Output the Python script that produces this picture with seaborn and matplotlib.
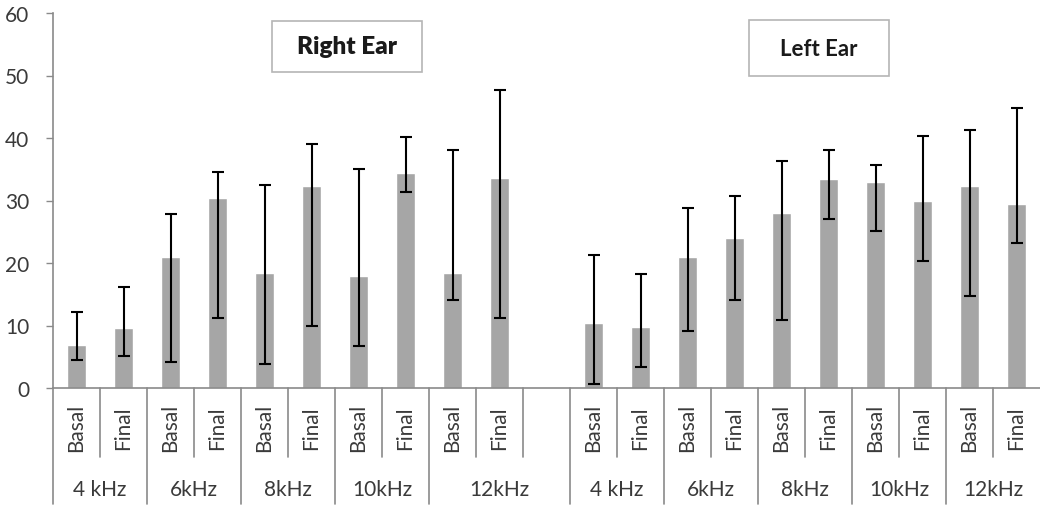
import matplotlib
matplotlib.use("Agg")
import matplotlib.pyplot as plt
from matplotlib.patches import Rectangle
import seaborn as sns
import pandas as pd
import numpy as np

# ---------------- data ----------------
ears = ["Right Ear", "Left Ear"]
freqs_right = ["4 kHz", "6kHz", "8kHz", "10kHz", "12kHz"]
freqs_left = ["4 kHz", "6kHz", "8kHz", "10kHz", "12kHz"]
conditions = ["Basal", "Final"]

# means (Basal, Final per frequency)
right_means = [6.9, 9.55, 21.0, 30.35, 18.35, 32.4, 18.0, 34.4, 18.35, 33.55]
left_means = [10.4, 9.8, 21.0, 23.95, 28.0, 33.5, 32.9, 30.0, 32.3, 29.4]
# error bar ends
right_upper = [12.1, 16.2, 27.8, 34.6, 32.5, 39.0, 35.1, 40.1, 38.1, 47.7]
right_lower = [4.5, 5.1, 4.2, 11.2, 3.9, 10.0, 6.8, 31.4, 14.1, 11.2]
left_upper = [21.3, 18.2, 28.75, 30.8, 36.3, 38.1, 35.7, 40.4, 41.3, 44.8]
left_lower = [0.64, 3.3, 9.2, 14.1, 10.9, 27.0, 25.2, 20.3, 14.7, 23.15]

yticks = [0, 10, 20, 30, 40, 50, 60]

# ---------------- build table ----------------
keys, vals, ups, los, conds = [], [], [], [], []
for i, f in enumerate(freqs_right):
    for j, c in enumerate(conditions):
        k = 2 * i + j
        keys.append(f"R|{f}|{c}"); vals.append(right_means[k])
        ups.append(right_upper[k]); los.append(right_lower[k]); conds.append(c)
keys.append("gap"); vals.append(np.nan); ups.append(np.nan); los.append(np.nan); conds.append("")
for i, f in enumerate(freqs_left):
    for j, c in enumerate(conditions):
        k = 2 * i + j
        keys.append(f"L|{f}|{c}"); vals.append(left_means[k])
        ups.append(left_upper[k]); los.append(left_lower[k]); conds.append(c)

df = pd.DataFrame({"key": keys, "value": vals, "upper": ups, "lower": los, "cond": conds})

# ---------------- plot ----------------
sns.set_style("white")
plt.rcParams["font.family"] = ["Lato", "DejaVu Sans"]
text_col = "#3a3a3a"
axis_col = "#8a8a8a"
fs = 15

fig = plt.figure(figsize=(10.4, 5.1), dpi=100)
ax = fig.add_axes([53 / 1040, 1 - 389 / 510, 987 / 1040, 375 / 510])

sns.barplot(data=df, x="key", y="value", order=keys, color="#a6a6a6",
            saturation=1, width=0.39, errorbar=None, ax=ax)

xpos = np.arange(len(keys))
mask = ~df["value"].isna().values
yerr = np.vstack([(df["value"] - df["lower"]).values[mask],
                  (df["upper"] - df["value"]).values[mask]])
ax.errorbar(xpos[mask], df["value"].values[mask], yerr=yerr, fmt="none",
            ecolor="black", elinewidth=1.5, capsize=4.5, capthick=1.5, zorder=5)

ax.set_xlim(-0.5, len(keys) - 0.5)
ax.set_ylim(0, 60)
ax.set_yticks(yticks)
ax.set_yticklabels([str(t) for t in yticks], fontsize=fs, color=text_col)
ax.tick_params(axis="y", length=5, width=1, color=axis_col, left=True, pad=12)
ax.set_xticks([])
ax.set_xlabel("")
ax.set_ylabel("")
for s in ["top", "right"]:
    ax.spines[s].set_visible(False)
for s in ["left", "bottom"]:
    ax.spines[s].set_color(axis_col)
    ax.spines[s].set_linewidth(1.2)

trans = ax.get_xaxis_transform()
short_y, long_y = -0.184, -0.309
# condition labels
for x, c in zip(xpos, conds):
    if c:
        ax.text(x, -0.104, c, rotation=90, ha="center", va="center",
                fontsize=fs, color=text_col, transform=trans)
# separators
group_bounds = [-0.5, 1.5, 3.5, 5.5, 7.5, 10.5, 12.5, 14.5, 16.5, 18.5]
inner_bounds = [0.5, 2.5, 4.5, 6.5, 8.5, 9.5, 11.5, 13.5, 15.5, 17.5, 19.5]
for b in group_bounds:
    ax.plot([b, b], [0, long_y], color=axis_col, lw=1.2, transform=trans, clip_on=False)
for b in inner_bounds:
    ax.plot([b, b], [0, short_y], color=axis_col, lw=1.2, transform=trans, clip_on=False)
# frequency labels
group_centers_right = [0.5, 2.5, 4.5, 6.5, 9.0]
group_centers_left = [11.5, 13.5, 15.5, 17.5, 19.5]
for x, f in zip(group_centers_right, freqs_right):
    ax.text(x, -0.269, f, ha="center", va="center", fontsize=fs, color=text_col, transform=trans)
for x, f in zip(group_centers_left, freqs_left):
    ax.text(x, -0.269, f, ha="center", va="center", fontsize=fs, color=text_col, transform=trans)

# ear title boxes
boxes = [(0.2219, 0.8427, 0.152, 0.136, "heavy"), (0.705, 0.832, 0.1418, 0.149, "bold")]
for (bx, by, bw, bh, wt), ear in zip(boxes, ears):
    ax.add_patch(Rectangle((bx, by), bw, bh, transform=ax.transAxes, fill=True,
                           facecolor="white", edgecolor="#b5b5b5", lw=1.2, zorder=6))
    ax.text(bx + bw / 2, by + bh / 2, ear, transform=ax.transAxes, ha="center", va="center",
            fontsize=17.5 if wt == "heavy" else 16, fontweight=wt, color="#1a1a1a", zorder=7)

fig.savefig("out.png", dpi=100)
